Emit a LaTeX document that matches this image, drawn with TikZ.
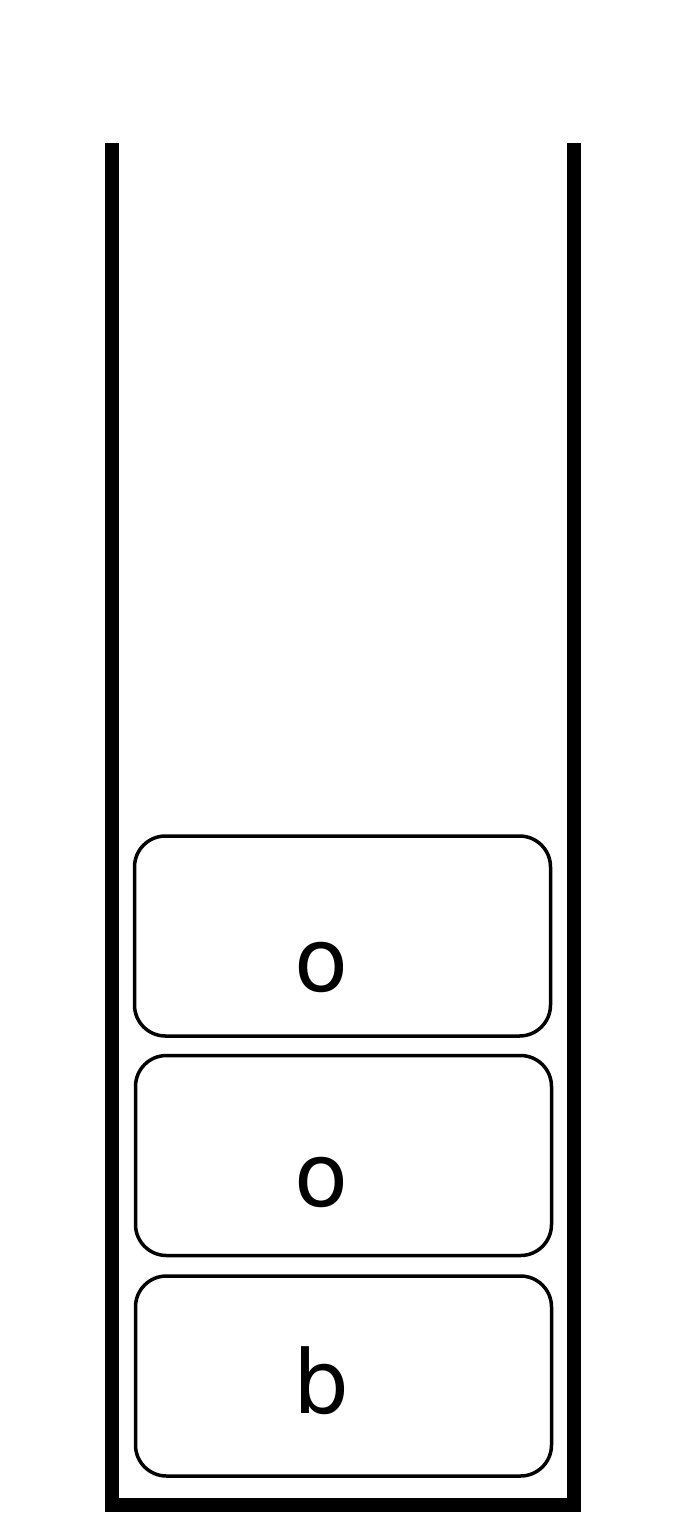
\documentclass[tikz,border=0pt]{standalone}
\usepackage{fontspec}
\setmainfont{DejaVu Sans}
\begin{document}
\begin{tikzpicture}[x=1pt,y=-1pt,
  cell/.style={draw=black, line width=3.5pt, rounded corners=31pt, fill=white, inner sep=0pt, minimum width=416pt, minimum height=200pt},
  lbl/.style={anchor=base, inner sep=0pt, font=\fontsize{88}{100}\selectfont},
  wall/.style={line width=14pt, line join=miter, line cap=butt}]
\useasboundingbox (0,0) rectangle (688,1536);
\coordinate (tl) at (112,143);
\coordinate (bl) at (112,1505);
\coordinate (br) at (574,1505);
\coordinate (tr) at (574,143);
\draw[wall] (tl) -- (bl) -- (br) -- (tr);
\node[cell] (c1) at (342.5,936) {};
\node[cell] (c2) at (343.5,1155.5) {};
\node[cell] (c3) at (343.5,1376) {};
\node[lbl] (t1) at (321,991) {o};
\node[lbl] (t2) at (321,1206) {o};
\node[lbl] (t3) at (321,1413) {b};
\end{tikzpicture}
\end{document}
